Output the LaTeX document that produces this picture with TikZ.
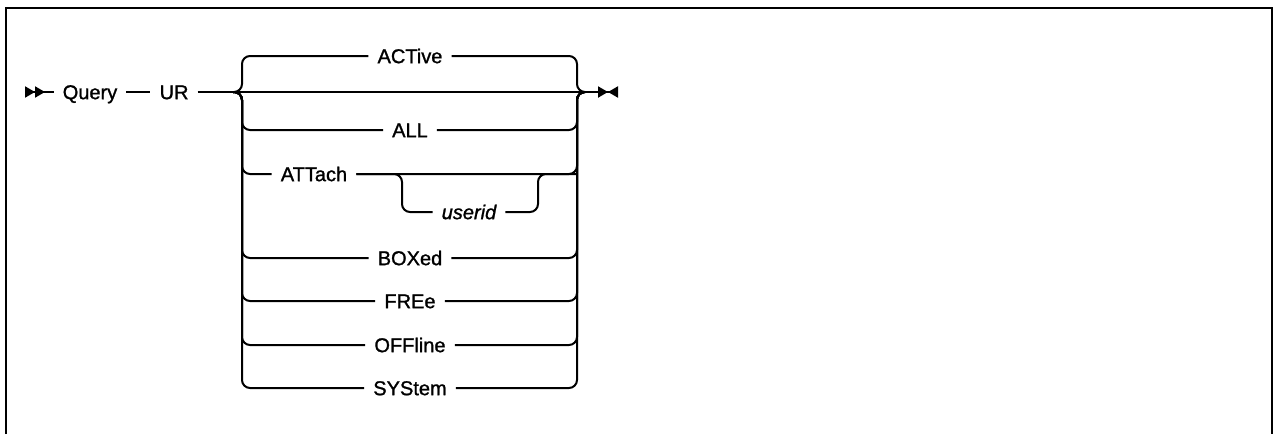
\documentclass[tikz,border=0pt]{standalone}
\usepackage{fontspec}
\setmainfont{Liberation Sans}[FakeBold=1.2]
\usepackage{tikz}
\usetikzlibrary{arrows.meta,positioning}

\begin{document}
\begin{tikzpicture}[
        x=1pt, y=-1pt,
        font=\fontsize{20}{24}\selectfont,
        kw/.style={inner xsep=9pt, inner ysep=0pt, text height=14.3pt, text depth=0pt},
        rail/.style={line width=2pt, rounded corners=8pt}
    ]
        \useasboundingbox (0,0) rectangle (1274,434);
        % frame, open at the bottom
        \draw[line width=2.5pt] (6,434) -- (6,8) -- (1272,8) -- (1272,434);

        % main line
        \coordinate (start) at (25,92);
        \node[kw] (query) at (90,92) {Query};
        \node[kw, right=24pt of query] (ur) {UR};
        \coordinate (lj) at (233,92);
        \coordinate (lv) at (242,92);
        \coordinate (rv) at (577,92);
        \coordinate (rj) at (585,92);
        \coordinate (stop) at (618,92);

        % choices
        \node[kw] (active) at (410,56) {ACTive};
        \node[kw] (all) at (410,130) {ALL};
        \node[kw] (attach) at (314,174) {ATTach};
        \node[kw] (userid) at (469,212) {\itshape userid};
        \node[kw] (boxed) at (410,258) {BOXed};
        \node[kw] (free) at (410,301) {FREe};
        \node[kw] (offline) at (410,345) {OFFline};
        \node[kw] (system) at (410,388) {SYStem};
        \coordinate (ulv) at (402,174);
        \coordinate (urv) at (538,174);

        \draw[rail, {Triangle[reversed, length=10pt, width=11pt]Triangle[reversed, length=10pt, width=11pt]}-] (start) -- (query);
        \draw[rail] (query) -- (ur);
        \draw[rail] (ur) -- (lj) -- (rj);
        \draw[rail, -{Triangle[length=10pt, width=11pt]Triangle[reversed, length=10pt, width=11pt]}] (rj) -- (stop);

        % left side of the stack
        \draw[rail] (lj) -- (lv) -- (lv |- active) -- (active);
        \draw[rail] (lj) -- (lv) -- (lv |- all) -- (all);
        \draw[rail] (lj) -- (lv) -- (lv |- attach) -- (attach);
        \draw[rail] (lj) -- (lv) -- (lv |- boxed) -- (boxed);
        \draw[rail] (lj) -- (lv) -- (lv |- free) -- (free);
        \draw[rail] (lj) -- (lv) -- (lv |- offline) -- (offline);
        \draw[rail] (lj) -- (lv) -- (lv |- system) -- (system);

        % right side of the stack
        \draw[rail] (active) -- (rv |- active) -- (rv) -- (rj);
        \draw[rail] (all) -- (rv |- all) -- (rv) -- (rj);
        \draw[rail] (attach) -- (rv |- attach) -- (rv) -- (rj);
        \draw[rail] (boxed) -- (rv |- boxed) -- (rv) -- (rj);
        \draw[rail] (free) -- (rv |- free) -- (rv) -- (rj);
        \draw[rail] (offline) -- (rv |- offline) -- (rv) -- (rj);
        \draw[rail] (system) -- (rv |- system) -- (rv) -- (rj);

        % optional userid
        \draw[rail] (attach) -- (ulv) -- (ulv |- userid) -- (userid);
        \draw[rail] (userid) -- (urv |- userid) -- (urv) -- (rv |- attach);
    \end{tikzpicture}
\end{document}
